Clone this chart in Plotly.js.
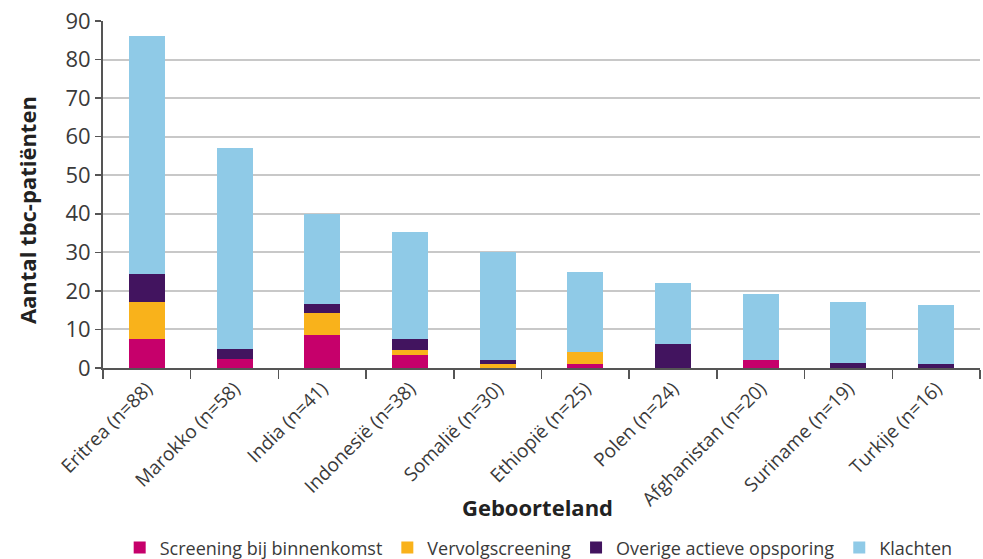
<!DOCTYPE html>
<html>
<head>
<meta charset="utf-8">
<script src="https://cdn.plot.ly/plotly-3.0.1.min.js"></script>
<style>
  html, body { margin: 0; padding: 0; background: #fff; }
  #chart { width: 983px; height: 559px; }
</style>
</head>
<body>
<div id="chart"></div>
<script>
// Geboorteland categories (with total number of patients)
const landen = [
  'Eritrea (n=88)', 'Marokko (n=58)', 'India (n=41)', 'Indonesië (n=38)', 'Somalië (n=30)',
  'Ethiopië (n=25)', 'Polen (n=24)', 'Afghanistan (n=20)', 'Suriname (n=19)', 'Turkije (n=16)'
];

// Aantal tbc-patiënten per wijze van opsporing
const screeningBinnenkomst = [7.4, 2.3, 8.6, 3.4, 0,   1,   0,  2.2, 0,   0];
const vervolgscreening     = [9.8, 0,   5.6, 1.3, 1,   3.2, 0,  0,   0,   0];
const overigeOpsporing     = [7.2, 2.6, 2.3, 2.7, 1,   0,   6.1, 0,  1.2, 1];
const klachten             = [61.7, 52.2, 23.4, 27.8, 28.2, 20.8, 15.9, 16.9, 15.8, 15.3];

const seriesNames  = ['Screening bij binnenkomst', 'Vervolgscreening', 'Overige actieve opsporing', 'Klachten'];
const seriesValues = [screeningBinnenkomst, vervolgscreening, overigeOpsporing, klachten];
const seriesColors = ['#c6006b', '#f9b21b', '#42145f', '#8fcae7'];

const traces = seriesNames.map((name, i) => ({
  type: 'bar',
  name: name,
  x: landen,
  y: seriesValues[i],
  marker: { color: seriesColors[i], line: { width: 0 } },
  hoverinfo: 'x+y+name'
}));

const textColor = '#3a3a3a';
const font = 'Open Sans, Noto Sans, sans-serif';

const layout = {
  width: 983,
  height: 559,
  margin: { l: 103, r: 3, t: 21, b: 191 },
  paper_bgcolor: '#ffffff',
  plot_bgcolor: '#ffffff',
  barmode: 'stack',
  bargap: 0.59,
  font: { family: font, color: textColor },
  showlegend: true,
  legend: {
    orientation: 'h',
    xref: 'container', yref: 'container',
    x: 0.548, xanchor: 'center',
    y: 0.02, yanchor: 'middle',
    font: { size: 18, color: textColor },
    traceorder: 'normal',
    itemwidth: 30
  },
  xaxis: {
    type: 'category',
    automargin: false,
    tickangle: -45,
    tickfont: { size: 19, color: textColor },
    ticks: 'outside',
    tickson: 'boundaries',
    ticklen: 9,
    tickwidth: 1.5,
    tickcolor: '#555',
    showline: true,
    linecolor: '#555',
    linewidth: 2,
    showgrid: false
  },
  yaxis: {
    automargin: false,
    range: [0, 90],
    dtick: 10,
    tickfont: { size: 22, color: textColor },
    ticks: 'outside',
    ticklen: 6,
    tickwidth: 1.5,
    tickcolor: '#555',
    showline: true,
    linecolor: '#555',
    linewidth: 2,
    showgrid: true,
    gridcolor: '#c8c8c8',
    gridwidth: 2,
    zeroline: false
  },
  annotations: [
    {
      text: '<b>Geboorteland</b>',
      xref: 'paper', yref: 'paper',
      x: 0.495, y: -0.40,
      xanchor: 'center', yanchor: 'middle',
      showarrow: false,
      font: { size: 22, color: '#222' }
    },
    {
      text: '<b>Aantal tbc-patiënten</b>',
      xref: 'paper', yref: 'paper',
      x: 0, xshift: -76,
      y: 0.455,
      xanchor: 'center', yanchor: 'middle',
      textangle: -90,
      showarrow: false,
      font: { size: 22, color: '#222' }
    }
  ]
};

Plotly.newPlot('chart', traces, layout, { displayModeBar: false, staticPlot: true });
</script>
</body>
</html>
